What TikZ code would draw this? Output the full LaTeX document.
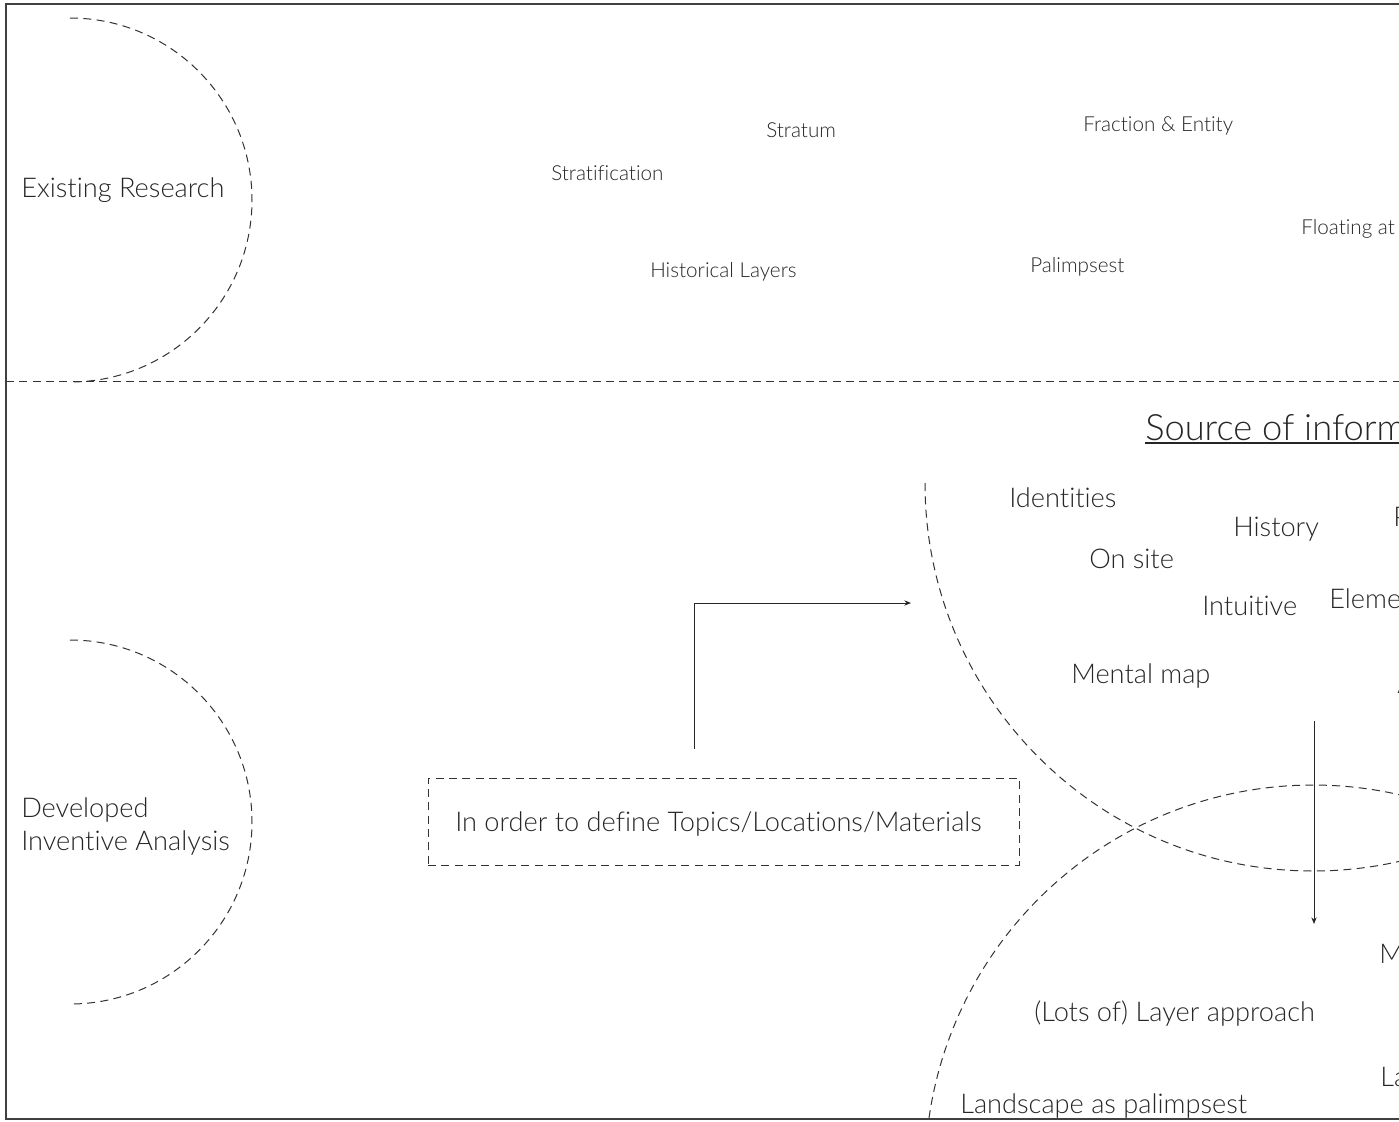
\documentclass[tikz,border=0pt]{standalone}
\usepackage{fontspec}
\setmainfont{Lato Light}[Ligatures={NoCommon}]
\usetikzlibrary{arrows.meta}
\begin{document}
\begin{tikzpicture}[x=0.75pt,y=-0.75pt,
  frameline/.style={draw=black!75,line width=1pt},
  dashline/.style={draw=black!80,line width=0.75pt,dash pattern=on 6pt off 4pt},
  big/.style={anchor=west,inner sep=0pt,text=black!85,font=\fontsize{20.4}{24}\selectfont},
  small/.style={anchor=west,inner sep=0pt,text=black!85,font=\fontsize{15.5}{18}\selectfont},
  title/.style={anchor=west,inner sep=0pt,text=black!85,font=\fontsize{27.2}{30}\selectfont},
  arr/.style={draw=black!85,line width=0.75pt,-{Stealth[length=5pt,width=4pt]}}]
\useasboundingbox (0,0) rectangle (1399,1121);
\clip (0,0) rectangle (1399,1121);
% frame and separator
\draw[frameline] (6,4) rectangle (1420,1119);
\draw[dashline] (6,381) -- (1420,381);
% half circles on the left
\draw[dashline] (70,18) arc[start angle=-90,end angle=90,radius=182];
\draw[dashline] (70,640) arc[start angle=-90,end angle=90,radius=182];
% two big circles
\draw[dashline] (925,483) arc[start angle=180,end angle=0,radius=388];
\draw[dashline] (929,1118) arc[start angle=188.15,end angle=300,radius=388];
% top section labels
\node[big] (er) at (21,190) {Existing Research};
\node[small] (strat) at (551,173) {Stratification};
\node[small] (stratum) at (766,130) {Stratum};
\node[small] (hist) at (650,272) {Historical Layers};
\node[small] (frac) at (1083,126) {Fraction \& Entity};
\node[small] (pal) at (1030,267) {Palimpsest};
\node[small] (float) at (1301,229) {Floating at};
% bottom section
\node[title] (src) at (1145,428) {Source of inform};
\draw[line width=1.3pt,black!85] (1145,443) -- (1420,443);
\node[big] (ident) at (1009,498) {Identities};
\node[big] (history) at (1233,529) {History};
\node[big] (onsite) at (1089,559) {On site};
\node[big] (pcut) at (1393,517) {P};
\node[big] (intu) at (1202,606) {Intuitive};
\node[big] (elem) at (1329,599) {Eleme};
\node[big] (mental) at (1071,676) {Mental map};
\node[big] (acut) at (1397,684) {A};
\node[big] (dev) at (21,810) {Developed};
\node[big] (inv) at (21,843) {Inventive Analysis};
\node[draw=black!80, line width=0.75pt, dash pattern=on 6pt off 4pt,
      minimum width=591*0.75pt, minimum height=87*0.75pt, inner sep=0pt, anchor=center] (box) at (723.5,821.5) {};
\node[big] (boxtext) at (455,824) {In order to define Topics/Locations/Materials};
\node[big] (mcut) at (1379,954) {M};
\node[big] (lots) at (1034,1014) {(Lots of) Layer approach};
\node[big] (lacut) at (1380,1077) {La};
\node[big] (land) at (960,1106) {Landscape as palimpsest};
% arrows
\coordinate (a1s) at (694,749);
\coordinate (a1c) at (694,603);
\coordinate (a1e) at (911,603);
\draw[arr] (a1s) -- (a1c) -- (a1e);
\coordinate (a2s) at (1314,721);
\coordinate (a2e) at (1314,924);
\draw[arr] (a2s) -- (a2e);
\end{tikzpicture}
\end{document}
